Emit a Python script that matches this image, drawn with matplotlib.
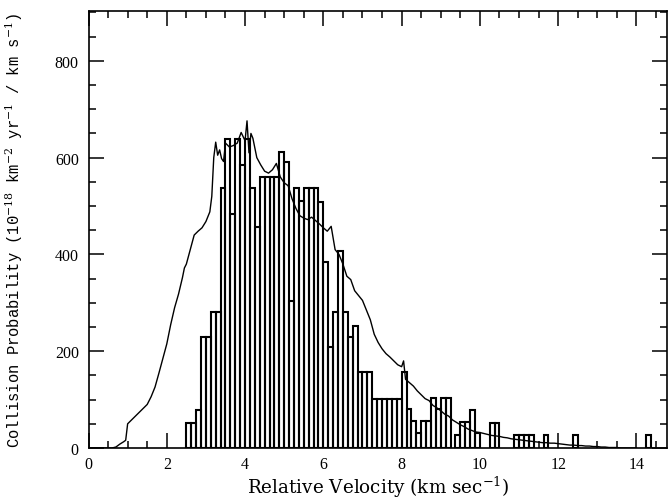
import numpy as np
import matplotlib
matplotlib.use("Agg")
import matplotlib.pyplot as plt
from matplotlib.ticker import MultipleLocator

# ---- data ----
# smooth (fine-bin) distribution
line_v = [0.0, 0.1, 0.2, 0.3, 0.4, 0.5, 0.6, 0.7, 0.8, 0.9,
          0.95, 1.0, 1.1, 1.2, 1.3, 1.4, 1.5, 1.6, 1.7, 1.8, 1.9,
          2.0, 2.1, 2.2, 2.3, 2.4, 2.45, 2.5, 2.6, 2.7, 2.8, 2.9,
          3.0, 3.1, 3.15, 3.2, 3.25, 3.3, 3.35, 3.4, 3.45, 3.5, 3.6, 3.7, 3.8, 3.9,
          4.0, 4.05, 4.1, 4.15, 4.2, 4.3, 4.4, 4.5, 4.6, 4.7, 4.8, 4.9,
          5.0, 5.1, 5.2, 5.3, 5.4, 5.5, 5.6, 5.7, 5.8, 5.9,
          6.0, 6.1, 6.2, 6.3, 6.4, 6.5, 6.6, 6.7, 6.8, 6.9,
          7.0, 7.1, 7.2, 7.3, 7.4, 7.5, 7.6, 7.7, 7.8, 7.9,
          8.0, 8.05, 8.1, 8.2, 8.3, 8.4, 8.5, 8.6, 8.7, 8.8, 8.9,
          9.0, 9.1, 9.2, 9.3, 9.4, 9.5, 9.6, 9.7, 9.8, 9.9,
          10.0, 10.1, 10.2, 10.3, 10.4, 10.5, 10.6, 10.7, 10.8, 10.9,
          11.0, 11.1, 11.2, 11.3, 11.4, 11.5, 11.6, 11.7, 11.8, 11.9,
          12.0, 12.1, 12.2, 12.3, 12.4, 12.5, 12.6, 12.7, 12.8, 12.9,
          13.0, 13.1, 13.2, 13.3, 13.4, 13.5, 13.6, 13.7, 13.8, 13.9, 14.0]
line_p = [0, 0, 0, 0, 0, 0, 0, 2, 8, 13,
          16, 50, 58, 66, 74, 82, 90, 106, 126, 155, 185,
          215, 255, 290, 318, 352, 372, 380, 410, 440, 448, 455,
          468, 488, 520, 600, 632, 605, 616, 598, 592, 630, 622, 625, 630, 652,
          635, 676, 610, 650, 640, 600, 585, 572, 568, 575, 588, 560,
          548, 542, 515, 495, 480, 475, 472, 477, 470, 463,
          455, 448, 458, 410, 400, 380, 355, 348, 325, 315,
          305, 285, 265, 235, 218, 205, 195, 188, 180, 172,
          168, 180, 142, 135, 128, 118, 110, 102, 98, 88, 83,
          77, 70, 66, 58, 53, 48, 44, 39, 36, 33,
          32, 30, 28, 26, 25, 24, 22, 21, 19, 18,
          17, 16, 15, 14, 13, 12, 11, 11, 10, 10,
          9, 8, 7, 6, 6, 5, 5, 4, 4, 3,
          3, 2, 2, 1, 1, 1, 0, 0, 0, 0, 0]

# histogram: left bin edges (km/s) and heights
hist_v = [2.500, 2.625, 2.750, 2.875, 3.000, 3.125, 3.250, 3.375,
          3.500, 3.625, 3.750, 3.875, 4.000, 4.125, 4.250, 4.375,
          4.500, 4.625, 4.750, 4.875, 5.000, 5.125, 5.250, 5.375,
          5.500, 5.625, 5.750, 5.875, 6.000, 6.125, 6.250, 6.375,
          6.500, 6.625, 6.750, 6.875, 7.000, 7.125, 7.250, 7.375,
          7.500, 7.625, 7.750, 7.875, 8.000, 8.125, 8.250, 8.375,
          8.500, 8.625, 8.750, 8.875, 9.000, 9.125, 9.375, 9.500,
          9.625, 9.750, 9.875, 10.250, 10.375, 10.875, 11.000, 11.125,
          11.250, 11.625, 12.375, 14.250]
hist_p = [52, 52, 78, 230, 230, 280, 280, 537,
          638, 483, 638, 585, 638, 537, 456, 560,
          560, 560, 560, 612, 590, 303, 537, 510,
          537, 537, 537, 508, 384, 209, 281, 407,
          281, 229, 252, 157, 157, 157, 101, 101,
          101, 101, 101, 101, 157, 80, 56, 30,
          56, 56, 104, 80, 104, 104, 26, 54,
          54, 78, 30, 52, 52, 26, 26, 26,
          26, 26, 26, 26]
bin_width = 0.125

x_ticks = [0, 2, 4, 6, 8, 10, 12, 14]
y_ticks = [0, 200, 400, 600, 800]

# ---- plot ----
plt.rcParams['mathtext.fontset'] = 'custom'
plt.rcParams['mathtext.rm'] = 'DejaVu Serif'
plt.rcParams['mathtext.it'] = 'DejaVu Serif'

fig = plt.figure(figsize=(6.69, 5.02), dpi=100)
ax = fig.add_axes([88.5 / 669, 53 / 502, (667 - 88.5) / 669, (449 - 12) / 502])

ax.bar(hist_v, hist_p, width=bin_width, align='edge', fill=False,
       edgecolor='black', linewidth=1.5, zorder=2)
ax.plot(line_v, line_p, color='black', linewidth=1.0, zorder=3)

ax.set_xlim(0, 14.78)
ax.set_ylim(0, 903)
ax.set_xticks(x_ticks)
ax.set_yticks(y_ticks)
ax.xaxis.set_minor_locator(MultipleLocator(0.5))
ax.yaxis.set_minor_locator(MultipleLocator(50))
ax.tick_params(which='both', direction='in', top=True, right=True, width=1.1)
ax.tick_params(which='major', length=11)
ax.tick_params(which='minor', length=5)
ax.tick_params(axis='x', pad=6)
ax.tick_params(axis='y', pad=7)
for lab in ax.get_xticklabels() + ax.get_yticklabels():
    lab.set_fontfamily('Liberation Serif')
    lab.set_fontsize(11.5)
for s in ax.spines.values():
    s.set_linewidth(1.2)

ax.set_xlabel('Relative Velocity (km sec$^{-1}$)', fontfamily='DejaVu Serif',
              fontsize=13.2)
ax.xaxis.set_label_coords(0.5, -0.06)
ax.xaxis.label.set_va('top')
ax.set_ylabel('Collision Probability (10$^{-18}$ km$^{-2}$ yr$^{-1}$ / km s$^{-1}$)',
              fontfamily='Liberation Mono', fontsize=11.2)
ax.yaxis.set_label_coords(-0.11, 0.5)

fig.savefig('out.png', dpi=100)
